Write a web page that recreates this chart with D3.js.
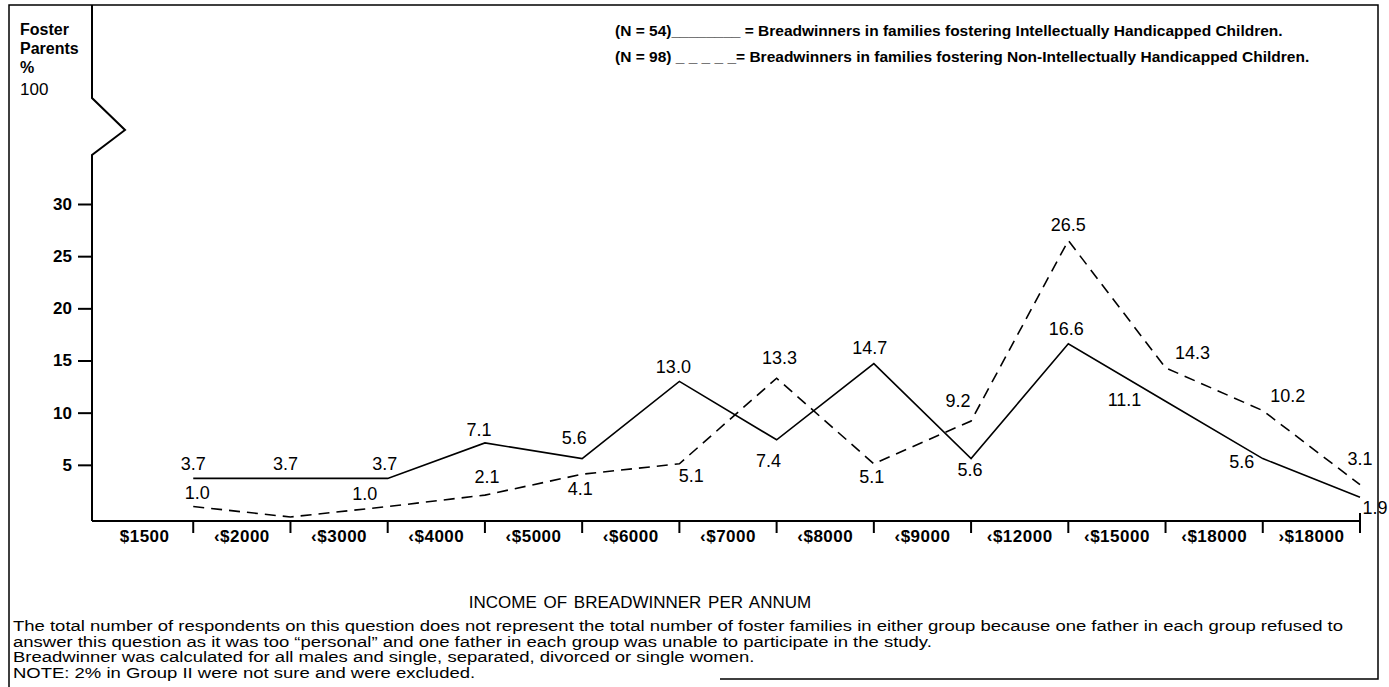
<!DOCTYPE html>
<html>
<head>
<meta charset="utf-8">
<script src="https://cdn.jsdelivr.net/npm/d3@7"></script>
<style>
  body { margin: 0; background: #fff; }
  svg { display: block; font-family: "Liberation Sans", Arial, sans-serif; }
</style>
</head>
<body>
<svg id="chart" width="1389" height="687"></svg>
<script>
// income brackets (x axis)
var categories = ['$1500', '\u2039$2000', '\u2039$3000', '\u2039$4000', '\u2039$5000', '\u2039$6000',
  '\u2039$7000', '\u2039$8000', '\u2039$9000', '\u2039$12000', '\u2039$15000', '\u2039$18000', '\u203a$18000'];

// % of foster parents per bracket
var intellectual = [3.7, 3.7, 3.7, 7.1, 5.6, 13.0, 7.4, 14.7, 5.6, 16.6, 11.1, 5.6, 1.9];
var nonIntellectual = [1.0, 0, 1.0, 2.1, 4.1, 5.1, 13.3, 5.1, 9.2, 26.5, 14.3, 10.2, 3.1];

var yTicks = [5, 10, 15, 20, 25, 30];

var legendLines = [
  '(N = 54)________ = Breadwinners in families fostering Intellectually Handicapped Children.',
  '(N = 98) _ _ _ _ _= Breadwinners in families fostering Non-Intellectually Handicapped Children.'
];

var notes = [
  'The total number of respondents on this question does not represent the total number of foster families in either group because one father in each group refused to',
  'answer this question as it was too \u201cpersonal\u201d and one father in each group was unable to participate in the study.',
  'Breadwinner was calculated for all males and single, separated, divorced or single women.',
  'NOTE: 2% in Group II were not sure and were excluded.'
];

// where each value label sits relative to its point
var ihLabelPos = [[0, -8], [-5, -8], [-3, -8], [-6, -7], [-8, -15], [-6, -8], [-8, 27], [-4, -10], [-1, 17], [-2, -9], [-41, 5], [-21, 9], [15, 17]];
var nihLabelPos = [[4, -8], null, [-23, -7], [2, -12], [-2, 21], [12, 18], [3, -14], [-2, 19], [-13, -14], [0, -10], [27, -9], [25, -9], [0, -20]];

var svg = d3.select('#chart');
var axisX = 92, axisY = 521;

var x = d3.scaleBand().domain(categories).range([96, 1360]);
var y = d3.scaleLinear().domain([0, 30]).range([517, 204]);
var bw = x.bandwidth();

// frame (bottom edge only runs along the right part)
svg.append('path')
  .attr('d', 'M9,687 L9,5 L1378,5 L1378,679 L720,679')
  .attr('fill', 'none').attr('stroke', '#000').attr('stroke-width', 1.5);

// y axis with break
svg.append('path')
  .attr('d', 'M' + axisX + ',5 L' + axisX + ',98 L125,130 L' + axisX + ',155 L' + axisX + ',' + axisY)
  .attr('fill', 'none').attr('stroke', '#000').attr('stroke-width', 2);

var yAxis = svg.append('g')
  .attr('transform', 'translate(' + axisX + ',0)')
  .call(d3.axisLeft(y).tickValues(yTicks).tickSize(14).tickPadding(6));
yAxis.select('.domain').remove();
yAxis.selectAll('.tick line').attr('stroke-width', 2);
yAxis.selectAll('.tick text')
  .attr('font-family', '"Liberation Sans", Arial, sans-serif')
  .attr('font-size', 17).attr('font-weight', 'bold').attr('fill', '#000');

// y title
svg.append('text').attr('x', 20).attr('y', 35)
  .attr('font-size', 16).attr('font-weight', 'bold').text('Foster');
svg.append('text').attr('x', 20).attr('y', 54)
  .attr('font-size', 16).attr('font-weight', 'bold').text('Parents');
svg.append('text').attr('x', 20).attr('y', 73)
  .attr('font-size', 16).attr('font-weight', 'bold').text('%');
svg.append('text').attr('x', 20).attr('y', 95)
  .attr('font-size', 17).text('100');

// x axis
svg.append('line')
  .attr('x1', axisX).attr('x2', x.range()[1])
  .attr('y1', axisY).attr('y2', axisY)
  .attr('stroke', '#000').attr('stroke-width', 2);

svg.append('g').selectAll('line')
  .data(categories)
  .join('line')
  .attr('x1', function(d) { return x(d) + bw; })
  .attr('x2', function(d) { return x(d) + bw; })
  .attr('y1', function(d, i) { return i === categories.length - 1 ? axisY - 8 : axisY; })
  .attr('y2', axisY + 12)
  .attr('stroke', '#000').attr('stroke-width', 2);

var xAxis = svg.append('g')
  .attr('transform', 'translate(0,' + axisY + ')')
  .call(d3.axisBottom(x).tickSize(0).tickPadding(9));
xAxis.select('.domain').remove();
xAxis.selectAll('.tick text')
  .attr('font-family', '"Liberation Sans", Arial, sans-serif')
  .attr('font-size', 17).attr('font-weight', 'bold').attr('letter-spacing', 0.5).attr('fill', '#000');

svg.append('text')
  .attr('x', 640).attr('y', 608)
  .attr('text-anchor', 'middle')
  .attr('font-size', 17).attr('word-spacing', 2)
  .text('INCOME OF BREADWINNER PER ANNUM');

// lines
var line = d3.line()
  .x(function(d, i) { return x(categories[i]) + bw; })
  .y(function(d) { return y(d); });

svg.append('path').datum(intellectual)
  .attr('d', line)
  .attr('fill', 'none').attr('stroke', '#000').attr('stroke-width', 1.6);

svg.append('path').datum(nonIntellectual)
  .attr('d', line)
  .attr('fill', 'none').attr('stroke', '#000').attr('stroke-width', 1.6)
  .attr('stroke-dasharray', '11,7');

function addLabels(values, pos) {
  var items = values.map(function(v, i) { return { v: v, i: i, p: pos[i] }; })
    .filter(function(d) { return d.p !== null; });
  svg.append('g').selectAll('text')
    .data(items)
    .join('text')
    .attr('x', function(d) { return x(categories[d.i]) + bw + d.p[0]; })
    .attr('y', function(d) { return y(d.v) + d.p[1]; })
    .attr('text-anchor', 'middle')
    .attr('font-size', 18)
    .text(function(d) { return d3.format('.1f')(d.v); });
}
addLabels(intellectual, ihLabelPos);
addLabels(nonIntellectual, nihLabelPos);

// legend
svg.append('g').selectAll('text')
  .data(legendLines)
  .join('text')
  .attr('x', 615)
  .attr('y', function(d, i) { return 36 + i * 26; })
  .attr('font-size', 15.5).attr('font-weight', 'bold')
  .text(function(d) { return d; });

// footnotes, set in a wide face: stretch all lines by the same factor
var noteText = svg.append('g').selectAll('text')
  .data(notes)
  .join('text')
  .attr('x', 13)
  .attr('y', function(d, i) { return 631 + i * 15.5; })
  .attr('font-size', 15.5)
  .text(function(d) { return d; });

var widths = noteText.nodes().map(function(n) { return n.getComputedTextLength(); });
var stretch = 1330 / widths[0];
noteText
  .attr('lengthAdjust', 'spacingAndGlyphs')
  .attr('textLength', function(d, i) { return widths[i] * stretch; });
</script>
</body>
</html>
